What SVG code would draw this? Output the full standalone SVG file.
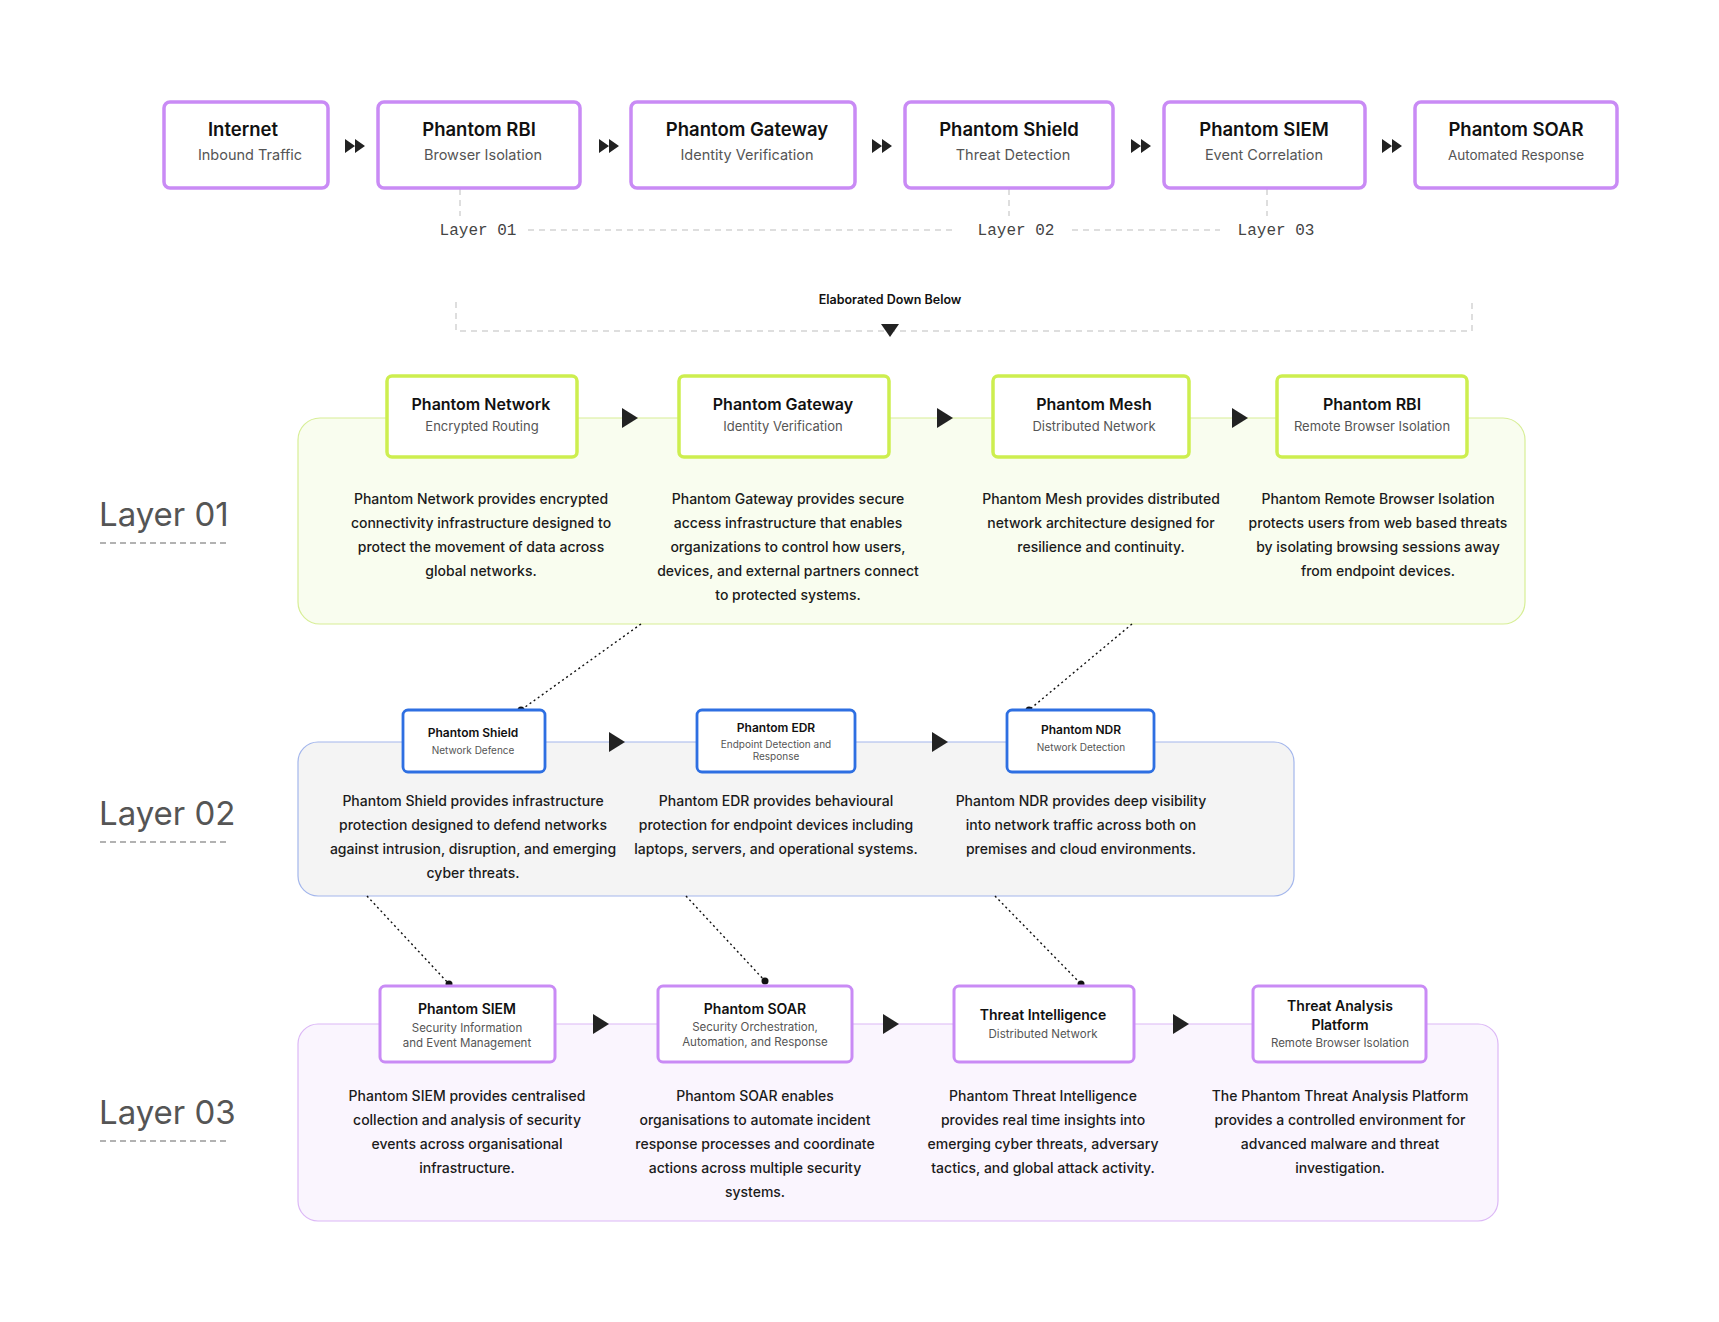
<svg xmlns="http://www.w3.org/2000/svg" width="1719" height="1322" viewBox="0 0 1719 1322">
<style>
.bg{fill:#ffffff}
.tn{fill:#fff;stroke:#c98bf5;stroke-width:3.5}
.gn{fill:#fff;stroke:#cdee4f;stroke-width:3.5}
.bn{fill:#fff;stroke:#2e6fe2;stroke-width:2.8}
.pn{fill:#fff;stroke:#c98bf5;stroke-width:3}
.t1{font-family:Inter,"Noto Sans",sans-serif;font-weight:600;fill:#111;text-anchor:middle}
.s1{font-family:Inter,"Noto Sans",sans-serif;font-weight:400;fill:#555;text-anchor:middle}
.d{font-family:Inter,"Noto Sans",sans-serif;font-weight:500;fill:#1b1b1b;text-anchor:middle;font-size:14px}
.mono{font-family:"Liberation Mono","DejaVu Sans Mono",monospace;font-size:16px;fill:#444;text-anchor:middle}
.big{font-family:Inter,"Noto Sans",sans-serif;font-size:33px;fill:#555;font-weight:400}
.dash{stroke:#d4d4d4;stroke-width:1.5;stroke-dasharray:6 5;fill:none}
.ul{stroke:#999;stroke-width:1.5;stroke-dasharray:6 4;fill:none}
.dot{stroke:#111;stroke-width:1.4;stroke-dasharray:2 3;fill:none}
.ar{fill:#222}
</style>
<rect class="bg" width="1719" height="1322"/>

<!-- panels -->
<rect x="298" y="418" width="1227" height="206" rx="22" fill="#f9fdef" stroke="#d7ee96" stroke-width="1.2"/>
<rect x="298" y="742" width="996" height="154" rx="20" fill="#f4f4f4" stroke="#a3b6ec" stroke-width="1.2"/>
<rect x="298" y="1024" width="1200" height="197" rx="20" fill="#faf5fe" stroke="#dcb8f6" stroke-width="1.2"/>

<g id="connectors">
  <!-- top row double arrows -->
  <path class="ar" d="M345 139 L355 146 L345 153 Z M355 139 L365 146 L355 153 Z"/>
  <path class="ar" d="M599 139 L609 146 L599 153 Z M609 139 L619 146 L609 153 Z"/>
  <path class="ar" d="M872 139 L882 146 L872 153 Z M882 139 L892 146 L882 153 Z"/>
  <path class="ar" d="M1131 139 L1141 146 L1131 153 Z M1141 139 L1151 146 L1141 153 Z"/>
  <path class="ar" d="M1382 139 L1392 146 L1382 153 Z M1392 139 L1402 146 L1392 153 Z"/>
  <!-- layer markers -->
  <line class="dash" x1="460" y1="189" x2="460" y2="216"/>
  <line class="dash" x1="1009" y1="189" x2="1009" y2="216"/>
  <line class="dash" x1="1267" y1="189" x2="1267" y2="216"/>
  <line class="dash" x1="528" y1="230" x2="957" y2="230"/>
  <line class="dash" x1="1072" y1="230" x2="1220" y2="230"/>
  <!-- elaborated bracket -->
  <path class="dash" d="M456 302 L456 331 L1472 331 L1472 302"/>
  <path class="ar" d="M881 324 L899 324 L890 337 Z"/>
  <!-- layer 01 arrows -->
  <path class="ar" d="M622 408 L638 418 L622 428 Z"/>
  <path class="ar" d="M937 408 L953 418 L937 428 Z"/>
  <path class="ar" d="M1232 408 L1248 418 L1232 428 Z"/>
  <!-- layer 02 arrows -->
  <path class="ar" d="M609 732 L625 742 L609 752 Z"/>
  <path class="ar" d="M932 732 L948 742 L932 752 Z"/>
  <!-- layer 03 arrows -->
  <path class="ar" d="M593 1014 L609 1024 L593 1034 Z"/>
  <path class="ar" d="M883 1014 L899 1024 L883 1034 Z"/>
  <path class="ar" d="M1173 1014 L1189 1024 L1173 1034 Z"/>
  <!-- dotted links -->
  <line class="dot" x1="641" y1="624" x2="521" y2="710"/>
  <circle cx="521" cy="710" r="3.5" fill="#111"/>
  <line class="dot" x1="1132" y1="624" x2="1029" y2="710"/>
  <circle cx="1029" cy="710" r="3.5" fill="#111"/>
  <line class="dot" x1="367" y1="896" x2="449" y2="984"/>
  <circle cx="449" cy="984" r="3.5" fill="#111"/>
  <line class="dot" x1="686" y1="896" x2="765" y2="981"/>
  <circle cx="765" cy="981" r="3.5" fill="#111"/>
  <line class="dot" x1="995" y1="896" x2="1081" y2="984"/>
  <circle cx="1081" cy="984" r="3.5" fill="#111"/>
</g>

<!-- top row -->
<g id="top-internet"><rect class="tn" x="164" y="102" width="164" height="86" rx="6"/><text class="t1" x="243" y="136" font-size="18.5">Internet</text><text class="s1" x="250" y="160" font-size="14.5">Inbound Traffic</text></g>
<g id="top-rbi"><rect class="tn" x="378" y="102" width="202" height="86" rx="6"/><text class="t1" x="479" y="136" font-size="18.5">Phantom RBI</text><text class="s1" x="483" y="160" font-size="14.5">Browser Isolation</text></g>
<g id="top-gateway"><rect class="tn" x="631" y="102" width="224" height="86" rx="6"/><text class="t1" x="747" y="136" font-size="18.5">Phantom Gateway</text><text class="s1" x="747" y="160" font-size="14.5">Identity Verification</text></g>
<g id="top-shield"><rect class="tn" x="905" y="102" width="208" height="86" rx="6"/><text class="t1" x="1009" y="136" font-size="18.5">Phantom Shield</text><text class="s1" x="1013" y="160" font-size="14.5">Threat Detection</text></g>
<g id="top-siem"><rect class="tn" x="1164" y="102" width="201" height="86" rx="6"/><text class="t1" x="1264" y="136" font-size="18.5">Phantom SIEM</text><text class="s1" x="1264" y="160" font-size="14.5">Event Correlation</text></g>
<g id="top-soar"><rect class="tn" x="1415" y="102" width="202" height="86" rx="6"/><text class="t1" x="1516" y="136" font-size="18.5">Phantom SOAR</text><text class="s1" x="1516" y="160" font-size="13.5">Automated Response</text></g>

<g id="layer-markers">
<text class="mono" x="478" y="235">Layer 01</text>
<text class="mono" x="1016" y="235">Layer 02</text>
<text class="mono" x="1276" y="235">Layer 03</text>
<text x="890" y="304" font-family="Inter,'Noto Sans',sans-serif" font-size="12.5" font-weight="600" fill="#111" text-anchor="middle">Elaborated Down Below</text>
</g>

<!-- big layer labels -->
<g id="label-layer01"><text class="big" x="99" y="526">Layer 01</text><line class="ul" x1="100" y1="543" x2="229" y2="543"/></g>
<g id="label-layer02"><text class="big" x="99" y="825">Layer 02</text><line class="ul" x1="100" y1="842" x2="229" y2="842"/></g>
<g id="label-layer03"><text class="big" x="99" y="1124">Layer 03</text><line class="ul" x1="100" y1="1141" x2="229" y2="1141"/></g>

<!-- layer 01 -->
<g id="l1-network"><rect class="gn" x="387" y="376" width="190" height="81" rx="5"/><text class="t1" x="481" y="410" font-size="16">Phantom Network</text><text class="s1" x="482" y="431" font-size="13">Encrypted Routing</text>
<text class="d" x="481" y="504">Phantom Network provides encrypted</text><text class="d" x="481" y="528">connectivity infrastructure designed to</text><text class="d" x="481" y="552">protect the movement of data across</text><text class="d" x="481" y="576">global networks.</text></g>
<g id="l1-gateway"><rect class="gn" x="679" y="376" width="210" height="81" rx="5"/><text class="t1" x="783" y="410" font-size="16">Phantom Gateway</text><text class="s1" x="783" y="431" font-size="13">Identity Verification</text>
<text class="d" x="788" y="504">Phantom Gateway provides secure</text><text class="d" x="788" y="528">access infrastructure that enables</text><text class="d" x="788" y="552">organizations to control how users,</text><text class="d" x="788" y="576">devices, and external partners connect</text><text class="d" x="788" y="600">to protected systems.</text></g>
<g id="l1-mesh"><rect class="gn" x="993" y="376" width="196" height="81" rx="5"/><text class="t1" x="1094" y="410" font-size="16">Phantom Mesh</text><text class="s1" x="1094" y="431" font-size="13">Distributed Network</text>
<text class="d" x="1101" y="504">Phantom Mesh provides distributed</text><text class="d" x="1101" y="528">network architecture designed for</text><text class="d" x="1101" y="552">resilience and continuity.</text></g>
<g id="l1-rbi"><rect class="gn" x="1277" y="376" width="190" height="81" rx="5"/><text class="t1" x="1372" y="410" font-size="16">Phantom RBI</text><text class="s1" x="1372" y="431" font-size="13">Remote Browser Isolation</text>
<text class="d" x="1378" y="504">Phantom Remote Browser Isolation</text><text class="d" x="1378" y="528">protects users from web based threats</text><text class="d" x="1378" y="552">by isolating browsing sessions away</text><text class="d" x="1378" y="576">from endpoint devices.</text></g>

<!-- layer 02 -->
<g id="l2-shield"><rect class="bn" x="403" y="710" width="142" height="62" rx="5"/><text class="t1" x="473" y="737" font-size="12">Phantom Shield</text><text class="s1" x="473" y="754" font-size="10">Network Defence</text>
<text class="d" x="473" y="806">Phantom Shield provides infrastructure</text><text class="d" x="473" y="830">protection designed to defend networks</text><text class="d" x="473" y="854">against intrusion, disruption, and emerging</text><text class="d" x="473" y="878">cyber threats.</text></g>
<g id="l2-edr"><rect class="bn" x="697" y="710" width="158" height="62" rx="5"/><text class="t1" x="776" y="732" font-size="12">Phantom EDR</text><text class="s1" x="776" y="748" font-size="10">Endpoint Detection and</text><text class="s1" x="776" y="760" font-size="10">Response</text>
<text class="d" x="776" y="806">Phantom EDR provides behavioural</text><text class="d" x="776" y="830">protection for endpoint devices including</text><text class="d" x="776" y="854">laptops, servers, and operational systems.</text></g>
<g id="l2-ndr"><rect class="bn" x="1007" y="710" width="147" height="62" rx="5"/><text class="t1" x="1081" y="734" font-size="12">Phantom NDR</text><text class="s1" x="1081" y="751" font-size="10">Network Detection</text>
<text class="d" x="1081" y="806">Phantom NDR provides deep visibility</text><text class="d" x="1081" y="830">into network traffic across both on</text><text class="d" x="1081" y="854">premises and cloud environments.</text></g>

<!-- layer 03 -->
<g id="l3-siem"><rect class="pn" x="380" y="986" width="175" height="76" rx="5"/><text class="t1" x="467" y="1014" font-size="14">Phantom SIEM</text><text class="s1" x="467" y="1032" font-size="11.5">Security Information</text><text class="s1" x="467" y="1047" font-size="11.5">and Event Management</text>
<text class="d" x="467" y="1101">Phantom SIEM provides centralised</text><text class="d" x="467" y="1125">collection and analysis of security</text><text class="d" x="467" y="1149">events across organisational</text><text class="d" x="467" y="1173">infrastructure.</text></g>
<g id="l3-soar"><rect class="pn" x="658" y="986" width="194" height="76" rx="5"/><text class="t1" x="755" y="1014" font-size="14">Phantom SOAR</text><text class="s1" x="755" y="1031" font-size="11.5">Security Orchestration,</text><text class="s1" x="755" y="1046" font-size="11.5">Automation, and Response</text>
<text class="d" x="755" y="1101">Phantom SOAR enables</text><text class="d" x="755" y="1125">organisations to automate incident</text><text class="d" x="755" y="1149">response processes and coordinate</text><text class="d" x="755" y="1173">actions across multiple security</text><text class="d" x="755" y="1197">systems.</text></g>
<g id="l3-ti"><rect class="pn" x="954" y="986" width="180" height="76" rx="5"/><text class="t1" x="1043" y="1020" font-size="14">Threat Intelligence</text><text class="s1" x="1043" y="1038" font-size="11.5">Distributed Network</text>
<text class="d" x="1043" y="1101">Phantom Threat Intelligence</text><text class="d" x="1043" y="1125">provides real time insights into</text><text class="d" x="1043" y="1149">emerging cyber threats, adversary</text><text class="d" x="1043" y="1173">tactics, and global attack activity.</text></g>
<g id="l3-tap"><rect class="pn" x="1253" y="986" width="173" height="76" rx="5"/><text class="t1" x="1340" y="1011" font-size="14">Threat Analysis</text><text class="t1" x="1340" y="1030" font-size="14">Platform</text><text class="s1" x="1340" y="1047" font-size="11.5">Remote Browser Isolation</text>
<text class="d" x="1340" y="1101">The Phantom Threat Analysis Platform</text><text class="d" x="1340" y="1125">provides a controlled environment for</text><text class="d" x="1340" y="1149">advanced malware and threat</text><text class="d" x="1340" y="1173">investigation.</text></g>
</svg>
